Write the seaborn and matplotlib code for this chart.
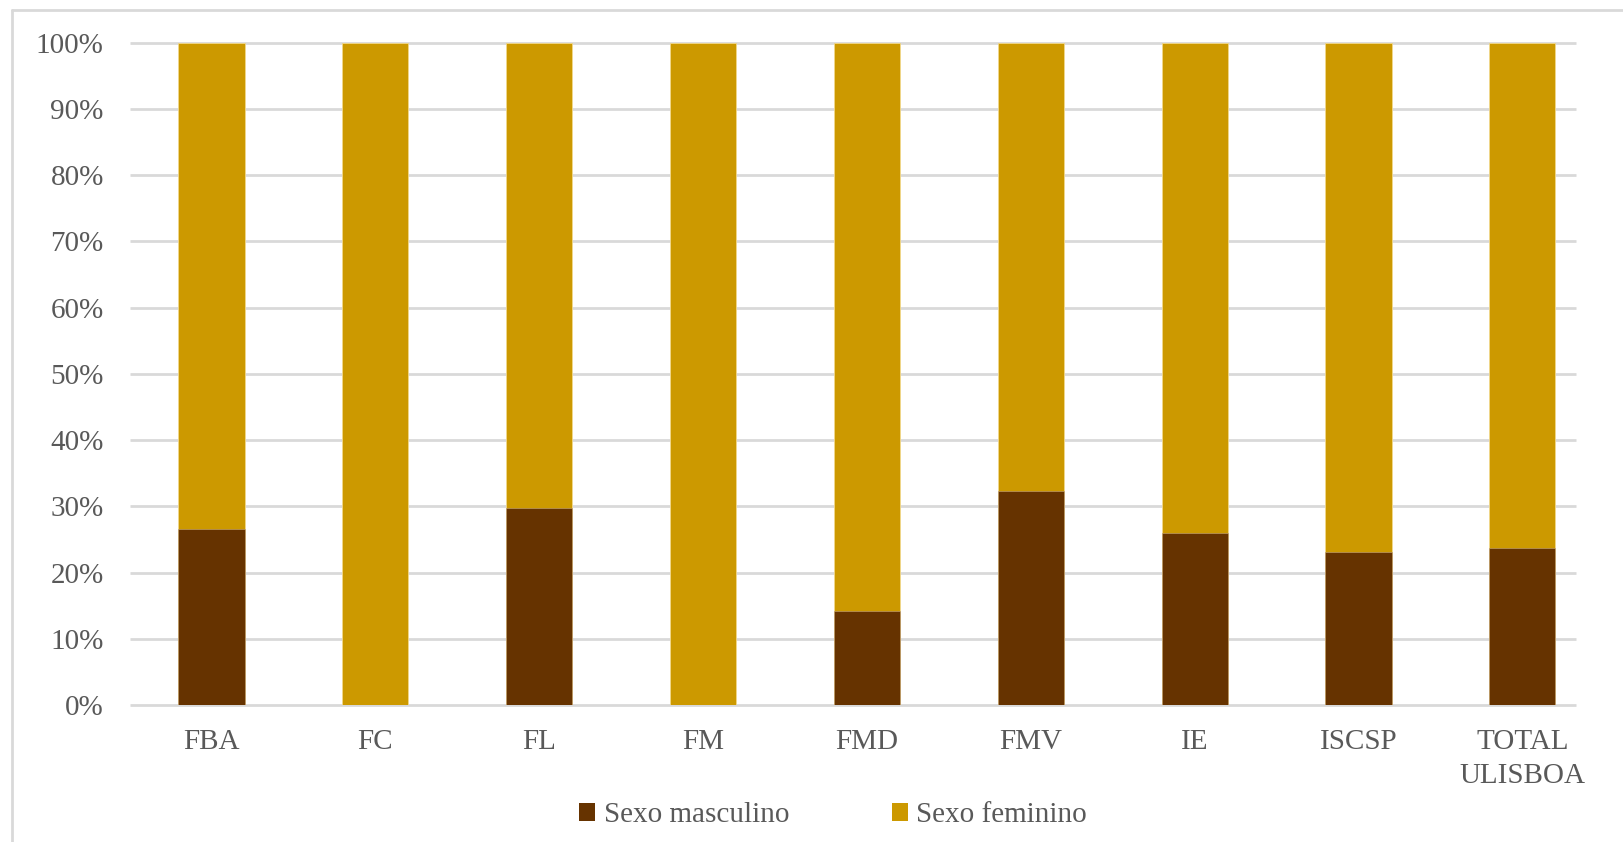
import matplotlib
matplotlib.use("Agg")
import matplotlib.pyplot as plt
import matplotlib.lines as mlines
from matplotlib.patches import Patch
from matplotlib.ticker import PercentFormatter
import seaborn as sns
import pandas as pd

# Share of students by sex per school
schools = ["FBA", "FC", "FL", "FM", "FMD", "FMV", "IE", "ISCSP", "TOTAL\nULISBOA"]
masculino = [0.266, 0.0, 0.298, 0.0, 0.142, 0.323, 0.259, 0.231, 0.237]
feminino = [0.734, 1.0, 0.702, 1.0, 0.858, 0.677, 0.741, 0.769, 0.763]
y_ticks = [i / 10 for i in range(11)]

COLOR_M = "#663300"
COLOR_F = "#CC9900"
GRID = "#D9D9D9"
TEXT = "#595959"
FS = 21

sns.set_theme(style="white")
plt.rcParams["font.family"] = ["Liberation Serif", "DejaVu Serif"]

df = pd.DataFrame({"escola": schools, "masc": masculino, "fem": feminino})
df["total"] = df["masc"] + df["fem"]

fig = plt.figure(figsize=(16.24, 8.42), dpi=100)
ax = fig.add_axes([129.5 / 1624, 0.1627, (1604.3 - 129.5) / 1624, 0.7868])

sns.barplot(data=df, x="escola", y="total", color=COLOR_F, width=0.404,
            edgecolor="#F2D98C", linewidth=0.6, saturation=1, ax=ax, zorder=3)
sns.barplot(data=df, x="escola", y="masc", color=COLOR_M, width=0.404,
            edgecolor="#C8A880", linewidth=0.4, saturation=1, ax=ax, zorder=4)

ax.set_ylim(0, 1)
ax.set_xlim(-0.5, len(schools) - 0.5)
ax.set_yticks(y_ticks)
ax.yaxis.set_major_formatter(PercentFormatter(1.0, decimals=0))
# horizontal gridlines, ending just past the last bar
ax.hlines(y_ticks, -0.5, len(schools) - 1 + 0.326, color=GRID, linewidth=2,
          zorder=1, clip_on=False)
for s in ax.spines.values():
    s.set_visible(False)
ax.set_xlabel("")
ax.set_ylabel("")
ax.tick_params(axis="both", length=0, labelsize=FS, colors=TEXT)
ax.tick_params(axis="y", pad=18.5)
ax.tick_params(axis="x", pad=17.5)
for lbl in ax.get_xticklabels():
    lbl.set_horizontalalignment("center")
    lbl.set_linespacing(1.38)

handles = [Patch(facecolor=COLOR_M, edgecolor="none"),
           Patch(facecolor=COLOR_F, edgecolor="none")]
fig.legend(handles, ["Sexo masculino", "Sexo feminino"], loc="center",
           bbox_to_anchor=(0.513, 0.032), ncol=2, frameon=False,
           fontsize=FS, labelcolor=TEXT, handlelength=0.55, handleheight=0.55,
           handletextpad=0.3, columnspacing=3.5)

# chart frame
fig.add_artist(mlines.Line2D([12 / 1624, 12 / 1624], [0, 1 - 10 / 842],
                             color=GRID, linewidth=2, transform=fig.transFigure))
fig.add_artist(mlines.Line2D([12 / 1624, 1], [1 - 10 / 842, 1 - 10 / 842],
                             color=GRID, linewidth=2, transform=fig.transFigure))

fig.savefig("out.png", dpi=100, facecolor="white")
